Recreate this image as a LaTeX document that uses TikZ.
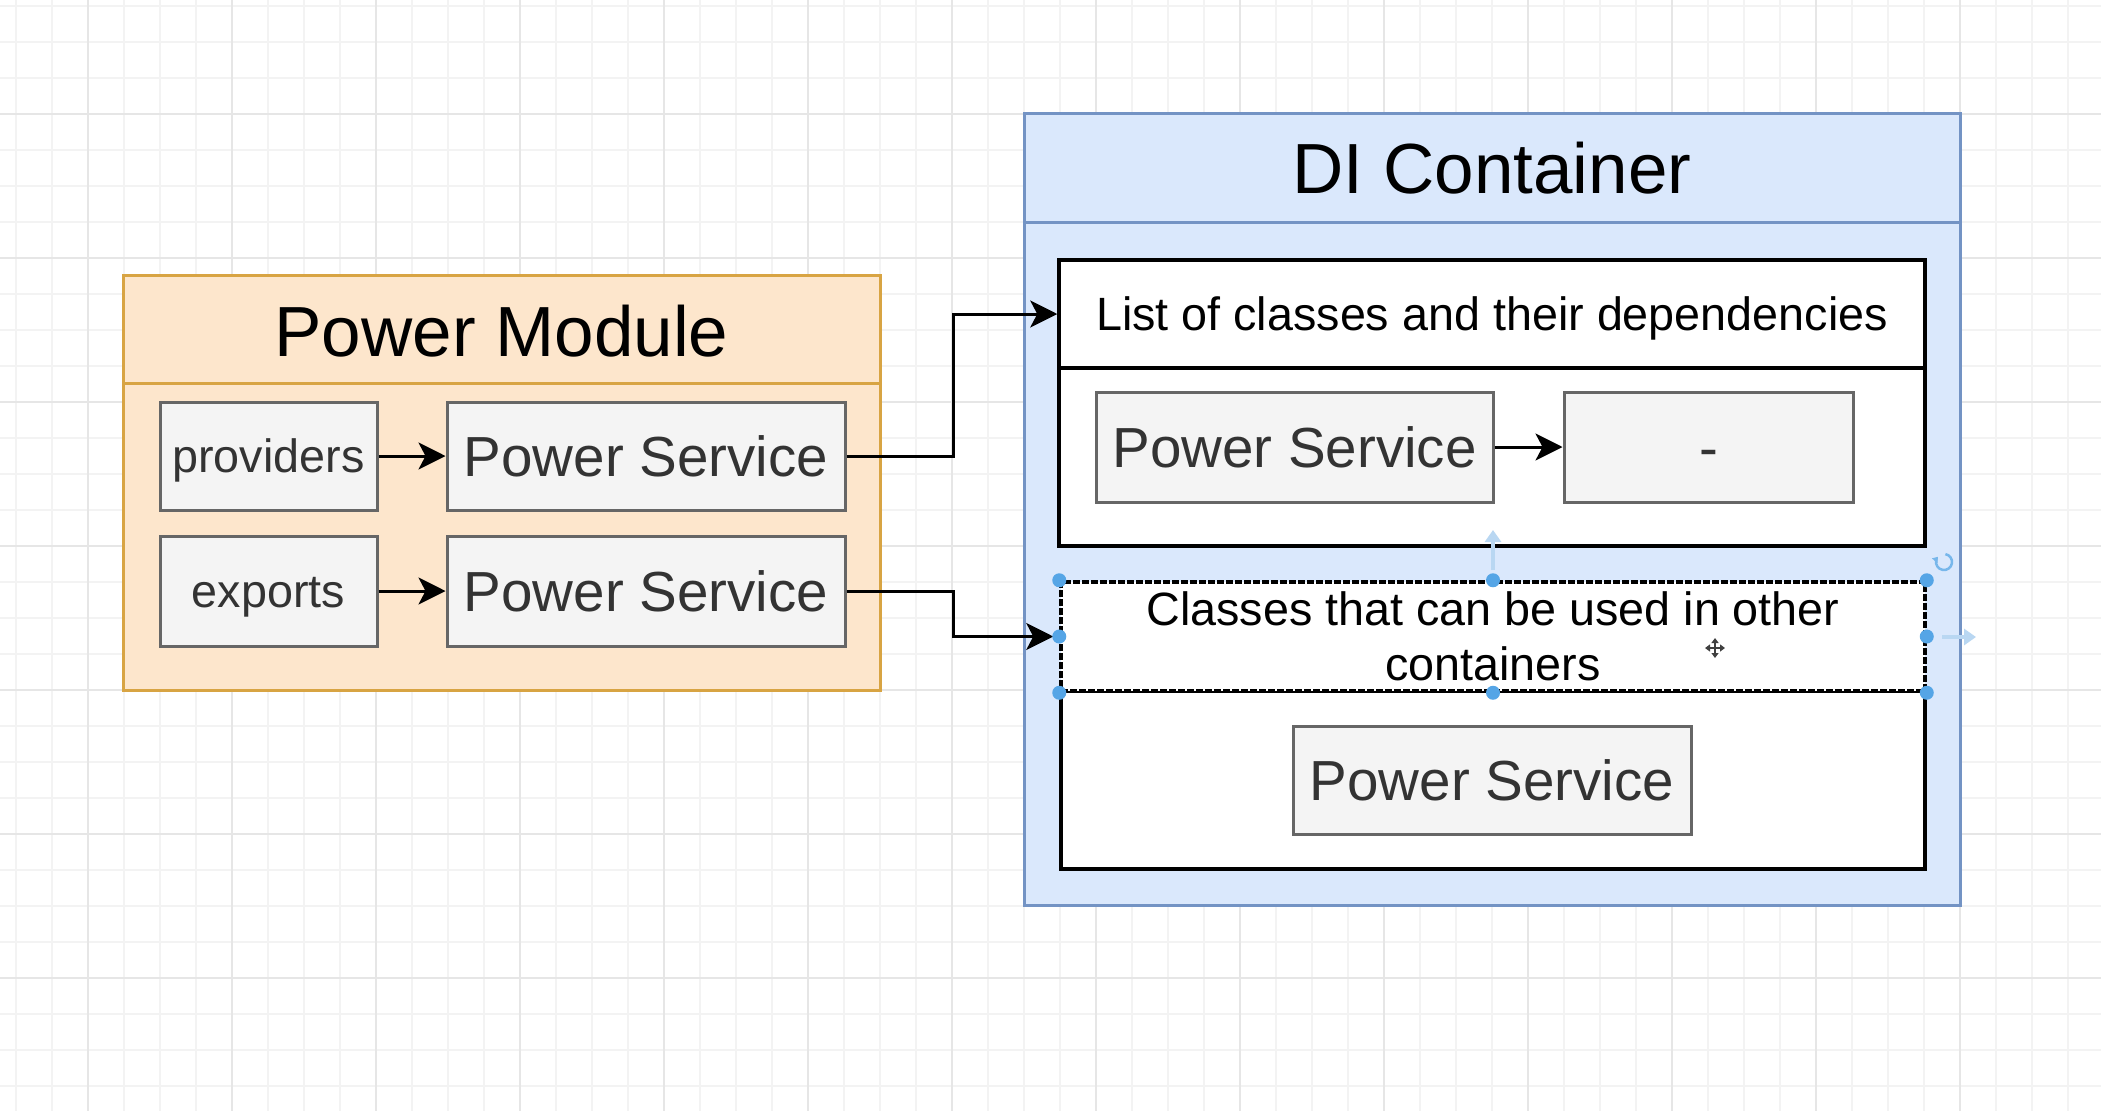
\documentclass[tikz,border=0pt]{standalone}
\usepackage{fontspec}
\setmainfont{Liberation Sans}
\usetikzlibrary{arrows.meta,calc}

\definecolor{orangefill}{HTML}{FDE6CC}
\definecolor{orangeline}{HTML}{D8A443}
\definecolor{bluefill}{HTML}{DAE8FC}
\definecolor{blueline}{HTML}{7393C4}
\definecolor{grayfill}{HTML}{F4F4F4}
\definecolor{grayline}{HTML}{666666}
\definecolor{graytext}{HTML}{333333}
\definecolor{gridminor}{HTML}{F3F3F3}
\definecolor{gridmajor}{HTML}{E6E6E6}
\definecolor{handle}{HTML}{55A5E6}
\definecolor{hint}{HTML}{B9D7F2}

\newcommand\ftitle{\fontsize{71pt}{85pt}\selectfont}
\newcommand\fmid{\fontsize{56.5pt}{66pt}\selectfont}
\newcommand\fsmall{\fontsize{46.7pt}{55pt}\selectfont}

\begin{document}
\begin{tikzpicture}[x=1pt,y=-1pt,
  minorgrid/.style={draw=gridminor,line width=1.5pt},
  majorgrid/.style={draw=gridmajor,line width=2pt},
  modulebox/.style={draw=orangeline,fill=orangefill,line width=3pt},
  containerbox/.style={draw=blueline,fill=bluefill,line width=3pt},
  midtext/.style={font=\fmid,text height=40.5pt,text depth=0pt},
  smalltext/.style={font=\fsmall,text height=33.4pt,text depth=0pt},
  section/.style={draw=black,fill=white,line width=3.5pt,inner sep=0pt,text=black,font=\fsmall},
  gbox/.style={draw=grayline,fill=grayfill,line width=3pt,inner sep=0pt,text=graytext},
  title/.style={inner sep=0pt,text=black,font=\ftitle,text height=50.8pt,text depth=0pt},
  arr/.style={draw=black,line width=3pt,-{Stealth[length=27pt,width=27pt,inset=7pt]}},
  sel/.style={draw=black,line width=3.5pt,dash pattern=on 7pt off 2pt},
  handledot/.style={fill=handle},
]
\useasboundingbox (0,0) rectangle (2101,1111);
\fill[white] (0,0) rectangle (2101,1111);

% background grid
\foreach \x in {16,52,...,2101} \draw[minorgrid] (\x,0) -- (\x,1111);
\foreach \y in {6,42,...,1111} \draw[minorgrid] (0,\y) -- (2101,\y);
\foreach \x in {88,232,...,2101} \draw[majorgrid] (\x,0) -- (\x,1111);
\foreach \y in {114,258,...,1111} \draw[majorgrid] (0,\y) -- (2101,\y);

% ---------------- Power Module ----------------
\node[modulebox,minimum width=757pt,minimum height=415pt,inner sep=0pt] (pm) at (501.5,482.5) {};
\draw[orangeline,line width=3pt] (123,383) -- (880,383);
\node[title] (pmtitle) at (501.5,331) {Power Module};

\node[gbox,smalltext,minimum width=217pt,minimum height=108pt] (prov) at (268.5,456) {providers};
\node[gbox,midtext,minimum width=398pt,minimum height=108pt] (ps1) at (646,456) {Power Service};
\node[gbox,smalltext,minimum width=217pt,minimum height=110pt] (exp) at (268.5,591) {exports};
\node[gbox,midtext,minimum width=398pt,minimum height=110pt] (ps2) at (646,591) {Power Service};

% ---------------- DI Container ----------------
\node[containerbox,minimum width=936pt,minimum height=792pt,inner sep=0pt] (di) at (1492,509) {};
\draw[blueline,line width=3pt] (1024,222) -- (1960,222);
\node[title] (dititle) at (1492,168) {DI Container};

% registry of classes
\node[section,minimum width=866pt,minimum height=180pt] (listbody) at (1492,456) {};
\node[section,smalltext,minimum width=866pt,minimum height=108pt] (listtop) at (1492,314) {List of classes and their dependencies};
\node[gbox,midtext,minimum width=397pt,minimum height=110pt] (ps3) at (1294.5,447) {Power Service};
\node[gbox,midtext,minimum width=289pt,minimum height=110pt] (none) at (1708.5,447) {-};

% exported classes
\node[section,minimum width=864pt,minimum height=178pt] (expbody) at (1493,780) {};
\node[section,sel,minimum width=864pt,minimum height=109pt,align=center] (exptop) at (1493,636.5)
  {Classes that can be used in other\\containers};
\node[gbox,midtext,minimum width=398pt,minimum height=108pt] (ps4) at (1492,780) {Power Service};

% ---------------- connectors ----------------
\coordinate (bend) at (953,0);
\draw[arr] (prov.east) -- (ps1.west);
\draw[arr] (exp.east) -- (ps2.west);
\draw[arr] (ps3.east) -- (none.west);
\draw[arr] (ps1.east) -| (bend |- listtop.west) -- (listtop.west);
\draw[arr,shorten >=6pt] (ps2.east) -| (bend |- exptop.west) -- (exptop.west);

% selection handles on the exported-classes header
\foreach \p in {north west,north,north east,west,east,south west,south,south east}
  \fill[handledot] (exptop.\p) circle (7pt);
% hover hints and rotate marker
\draw[hint,line width=4pt,-{Triangle[length=12pt,width=16pt]}] (1493,570) -- (1493,530);
\draw[hint,line width=4pt,-{Triangle[length=12pt,width=16pt]}] (1942,637) -- (1976,637);
\draw[handle!80,line width=2.5pt,-{Triangle[length=5pt,width=7pt]}] (1944,562) ++(80:8pt) arc (80:-220:8pt);
% move cursor
\begin{scope}[line width=2.5pt,draw=black!75]
  \draw[{Triangle[length=5pt,width=7pt]}-{Triangle[length=5pt,width=7pt]}] (1705,648) -- (1725,648);
  \draw[{Triangle[length=5pt,width=7pt]}-{Triangle[length=5pt,width=7pt]}] (1715,638) -- (1715,658);
\end{scope}
\end{tikzpicture}
\end{document}
